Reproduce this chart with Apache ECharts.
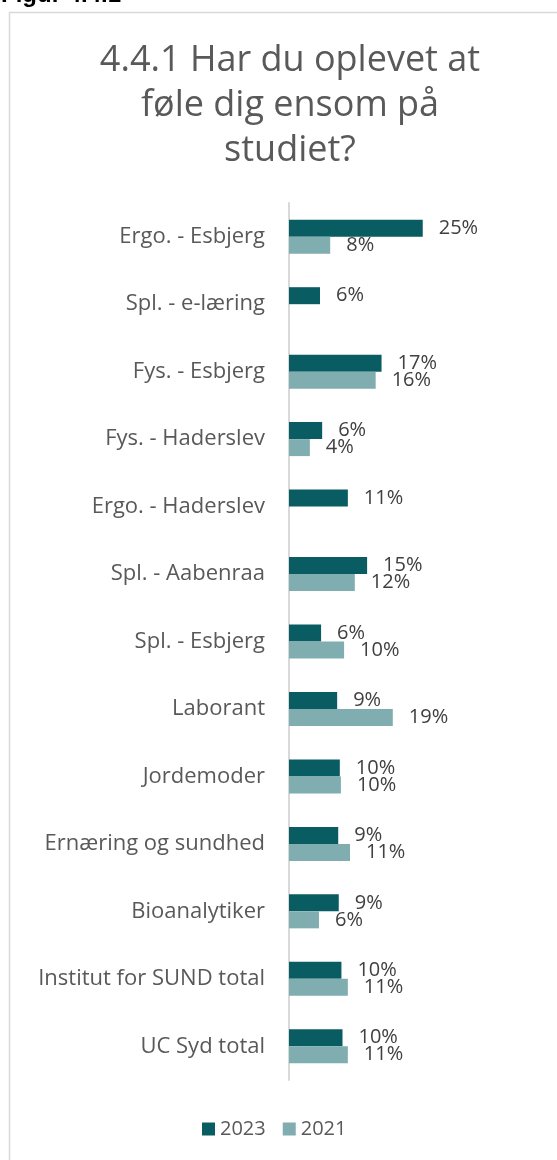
<!DOCTYPE html>
<html>
<head>
<meta charset="utf-8">
<script src="https://cdn.jsdelivr.net/npm/echarts@6/dist/echarts.min.js"></script>
<style>
  html, body { margin: 0; padding: 0; background: #fff; }
  #chart { width: 557px; height: 1160px; }
</style>
</head>
<body>
<div id="chart"></div>
<script>
// uddannelser, fra top til bund
const categories = [
    'Ergo. - Esbjerg', 'Spl. - e-læring', 'Fys. - Esbjerg', 'Fys. - Haderslev',
    'Ergo. - Haderslev', 'Spl. - Aabenraa', 'Spl. - Esbjerg', 'Laborant',
    'Jordemoder', 'Ernæring og sundhed', 'Bioanalytiker',
    'Institut for SUND total', 'UC Syd total'
];
const values2023 = [25.0, 5.8, 17.3, 6.2, 11.0, 14.6, 6.0, 9.0, 9.5, 9.2, 9.3, 9.8, 10.0];
const values2021 = [7.7, null, 16.2, 3.9, null, 12.3, 10.3, 19.4, 9.7, 11.4, 5.6, 11.0, 11.0];
const seriesNames = ['2023', '2021'];
const colors = ['#0a5c63', '#80adb0'];

const font = '"Open Sans"';
const chart = echarts.init(document.getElementById('chart'));

// fælles label-opsætning
function barLabel() {
    return {
        show: true,
        position: 'right',
        distance: 16,
        fontFamily: font,
        fontSize: 20,
        color: '#404040',
        formatter: function (p) {
            return Math.round(p.value) + '%';
        }
    };
}

const option = {
    animation: false,
    textStyle: { fontFamily: font },
    graphic: [
        {
            type: 'rect',
            shape: { x: 9.5, y: 12.5, width: 600, height: 1200 },
            style: { fill: 'none', stroke: '#d9d9d9', lineWidth: 1.5 }
        },
        {
            type: 'text',
            x: 1,
            y: 7,
            style: {
                text: 'Figur 4.4.1',
                font: 'bold 24px "Liberation Sans"',
                fill: '#000',
                textVerticalAlign: 'bottom'
            }
        }
    ],
    title: {
        text: '4.4.1 Har du oplevet at\nføle dig ensom på\nstudiet?',
        left: 285,
        top: 33,
        textAlign: 'center',
        textStyle: {
            fontFamily: font,
            fontWeight: 'normal',
            fontSize: 36,
            lineHeight: 45,
            color: '#595959'
        }
    },
    legend: {
        data: seriesNames,
        bottom: 16,
        left: 197,
        icon: 'rect',
        itemWidth: 13,
        itemHeight: 13,
        itemGap: 17,
        textStyle: { fontSize: 20, color: '#595959', fontFamily: font }
    },
    grid: {
        left: 289,
        right: 54,
        top: 203,
        bottom: 80
    },
    xAxis: {
        type: 'value',
        min: 0,
        max: 40,
        show: false
    },
    yAxis: {
        type: 'category',
        data: categories,
        inverse: true,
        axisTick: { show: false },
        axisLine: { lineStyle: { color: '#d9d9d9', width: 2 } },
        axisLabel: {
            margin: 24,
            fontSize: 22,
            color: '#595959',
            fontFamily: font
        }
    },
    series: [
        {
            name: seriesNames[0],
            type: 'bar',
            data: values2023,
            barWidth: 17,
            barGap: '0%',
            itemStyle: { color: colors[0] },
            label: barLabel()
        },
        {
            name: seriesNames[1],
            type: 'bar',
            data: values2021,
            barWidth: 17,
            barGap: '0%',
            itemStyle: { color: colors[1] },
            label: barLabel()
        }
    ]
};

chart.setOption(option);
</script>
</body>
</html>
